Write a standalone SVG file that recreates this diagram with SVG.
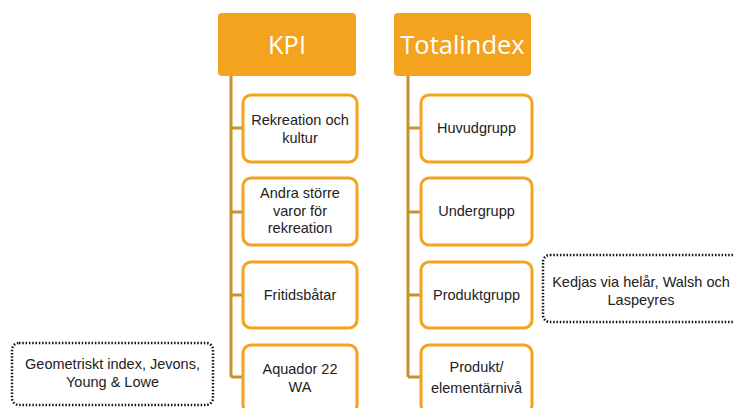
<svg xmlns="http://www.w3.org/2000/svg" width="734" height="408" viewBox="0 0 734 408">
<style>
.hdr{fill:#F4A31F;}
.hdrt{fill:#fff;font-family:"Open Sans","Liberation Sans",sans-serif;font-size:25.5px;text-anchor:middle;}
.box{fill:#fff;stroke:#F4A31F;stroke-width:3;}
.t{fill:#222;font-family:"Liberation Sans",Arial,sans-serif;font-size:14.5px;text-anchor:middle;}
.conn{fill:none;stroke:#C8922C;stroke-width:3;}
.note{fill:#fff;stroke:#111;stroke-width:2.5;stroke-dasharray:1.5 1.8;}
</style>
<rect width="734" height="408" fill="#fff"/>
<g id="connectors">
<path class="conn" d="M231 76 V377 M231 128 H243 M231 212 H243 M231 295 H243 M231 377 H243"/>
<path class="conn" d="M408 76 V377 M408 128 H421 M408 212 H421 M408 295 H421 M408 377 H421"/>
</g>
<g id="kpi"><rect class="hdr" x="218" y="13" width="138" height="63" rx="4"/><text class="hdrt" x="287" y="54">KPI</text></g>
<g id="totalindex"><rect class="hdr" x="394" y="13" width="137" height="63" rx="4"/><text class="hdrt" x="462.5" y="54">Totalindex</text></g>
<g id="rekreation"><rect class="box" x="243" y="95" width="114" height="67" rx="8"/><text class="t" x="300" y="125">Rekreation och</text><text class="t" x="300" y="142.5">kultur</text></g>
<g id="andra"><rect class="box" x="243" y="178" width="114" height="67" rx="8"/><text class="t" x="300" y="198">Andra större</text><text class="t" x="300" y="215.5">varor för</text><text class="t" x="300" y="233">rekreation</text></g>
<g id="fritidsbatar"><rect class="box" x="243" y="262" width="114" height="66" rx="8"/><text class="t" x="300" y="300">Fritidsbåtar</text></g>
<g id="aquador"><rect class="box" x="243" y="345" width="114" height="68" rx="8"/><text class="t" x="300" y="374">Aquador 22</text><text class="t" x="300" y="391.5">WA</text></g>
<g id="huvudgrupp"><rect class="box" x="421" y="95" width="111" height="67" rx="8"/><text class="t" x="476.5" y="133">Huvudgrupp</text></g>
<g id="undergrupp"><rect class="box" x="421" y="178" width="111" height="67" rx="8"/><text class="t" x="476.5" y="216">Undergrupp</text></g>
<g id="produktgrupp"><rect class="box" x="421" y="262" width="111" height="66" rx="8"/><text class="t" x="476.5" y="300">Produktgrupp</text></g>
<g id="produkt"><rect class="box" x="421" y="345" width="111" height="68" rx="8"/><text class="t" x="476.5" y="372">Produkt/</text><text class="t" x="476.5" y="393">elementärnivå</text></g>
<g id="kedjas"><rect class="note" x="543" y="255" width="200" height="67" rx="7"/><text class="t" x="641" y="287">Kedjas via helår, Walsh och</text><text class="t" x="641" y="305">Laspeyres</text></g>
<g id="geometriskt"><rect class="note" x="12" y="343" width="201" height="62" rx="7"/><text class="t" x="112.5" y="369">Geometriskt index, Jevons,</text><text class="t" x="112.5" y="386.5">Young &amp; Lowe</text></g>
</svg>
